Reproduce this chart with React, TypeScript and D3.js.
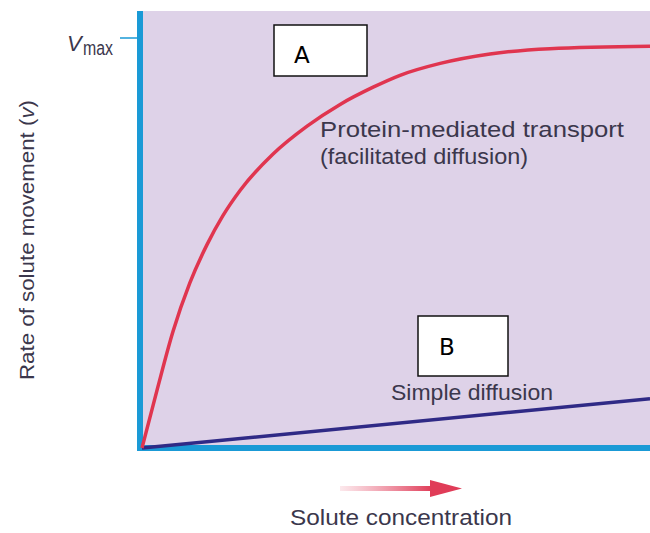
import * as d3 from "d3";

const W = 650;
const H = 533;

// concentration (0..10) vs rate (fraction of Vmax)
const facilitatedX = [0, 0.3, 0.61, 0.94, 1.28, 1.59, 1.93, 2.58, 3.25, 3.9, 4.55, 5.08, 5.87, 6.85, 8.03, 10];
const facilitatedY = [0, 0.143, 0.284, 0.402, 0.496, 0.566, 0.628, 0.717, 0.785, 0.838, 0.88, 0.909, 0.938, 0.961, 0.974, 0.98];
const simpleX = [0, 10];
const simpleY = [0, 0.12];

const labels = {
  vmax: "max",
  yAxis: "Rate of solute movement (",
  xAxis: "Solute concentration",
  protein1: "Protein-mediated transport",
  protein2: "(facilitated diffusion)",
  simple: "Simple diffusion",
};

const FONT = "'Liberation Sans', Arial, sans-serif";
const TEXT = "#3b374c";

export default function App() {
  const x = d3.scaleLinear().domain([0, 10]).range([142, 650]);
  const y = d3.scaleLinear().domain([0, 1]).range([448, 38]);

  const line = d3
    .line<[number, number]>()
    .x((d) => x(d[0]))
    .y((d) => y(d[1]))
    .curve(d3.curveMonotoneX);

  const redPts = facilitatedX.map((v, i) => [v, facilitatedY[i]] as [number, number]);
  const bluePts = simpleX.map((v, i) => [v, simpleY[i]] as [number, number]);

  return (
    <svg width={W} height={H} style={{ display: "block", position: "absolute", left: 0, top: 0 }}>
      <defs>
        <linearGradient id="arrowGrad" x1="0" x2="1" y1="0" y2="0">
          <stop offset="0" stopColor="#ea6a82" stopOpacity={0.15} />
          <stop offset="1" stopColor="#e03c58" stopOpacity={1} />
        </linearGradient>
      </defs>
      <rect x={0} y={0} width={W} height={H} fill="#ffffff" />
      {/* plot area */}
      <rect x={142} y={11} width={W - 142} height={437} fill="#ded2e8" />

      {/* axes */}
      <rect x={137} y={11} width={6} height={440} fill="#1a9ad6" />
      <rect x={137} y={445} width={W - 137} height={6} fill="#1a9ad6" />
      <line x1={120} x2={138} y1={y(1)} y2={y(1)} stroke="#1a9ad6" strokeWidth={1.5} />

      {/* Vmax */}
      <text x={67} y={51} fontFamily={FONT} fontSize={22} fill={TEXT} fontStyle="italic">
        V
      </text>
      <text x={83} y={55} fontFamily={FONT} fontSize={20} fill={TEXT} textLength={30} lengthAdjust="spacingAndGlyphs">
        {labels.vmax}
      </text>

      {/* curves */}
      <path d={line(bluePts) ?? ""} fill="none" stroke="#2f2a86" strokeWidth={3.5} />
      <path d={line(redPts) ?? ""} fill="none" stroke="#e0354f" strokeWidth={3.5} />

      {/* curve labels */}
      <text x={320} y={137} fontFamily={FONT} fontSize={22} fill={TEXT} textLength={304} lengthAdjust="spacingAndGlyphs">
        {labels.protein1}
      </text>
      <text x={320} y={164} fontFamily={FONT} fontSize={22} fill={TEXT} textLength={208} lengthAdjust="spacingAndGlyphs">
        {labels.protein2}
      </text>
      <text x={391} y={400} fontFamily={FONT} fontSize={22} fill={TEXT} textLength={162} lengthAdjust="spacingAndGlyphs">
        {labels.simple}
      </text>

      {/* boxes */}
      <rect x={274} y={25} width={93} height={51} fill="#ffffff" stroke="#111" strokeWidth={1.5} />
      <text x={294} y={63} fontFamily="'DejaVu Sans', sans-serif" fontSize={23} fill="#000">
        A
      </text>
      <rect x={418} y={316} width={90} height={60} fill="#ffffff" stroke="#111" strokeWidth={1.5} />
      <text x={439} y={355} fontFamily="'DejaVu Sans', sans-serif" fontSize={23} fill="#000">
        B
      </text>

      {/* y axis label */}
      <text
        transform="translate(34,240) rotate(-90)"
        textAnchor="middle"
        fontFamily={FONT}
        fontSize={21}
        fill={TEXT}
        textLength={280}
        lengthAdjust="spacingAndGlyphs"
      >
        {labels.yAxis}
        <tspan fontStyle="italic">v</tspan>)
      </text>

      {/* x axis arrow + label */}
      <rect x={340} y={486} width={92} height={5} fill="url(#arrowGrad)" />
      <path d="M430,480 L462,488.5 L430,497 Z" fill="#e03c58" />
      <text x={401} y={525} textAnchor="middle" fontFamily={FONT} fontSize={22} fill={TEXT} textLength={222} lengthAdjust="spacingAndGlyphs">
        {labels.xAxis}
      </text>
    </svg>
  );
}
